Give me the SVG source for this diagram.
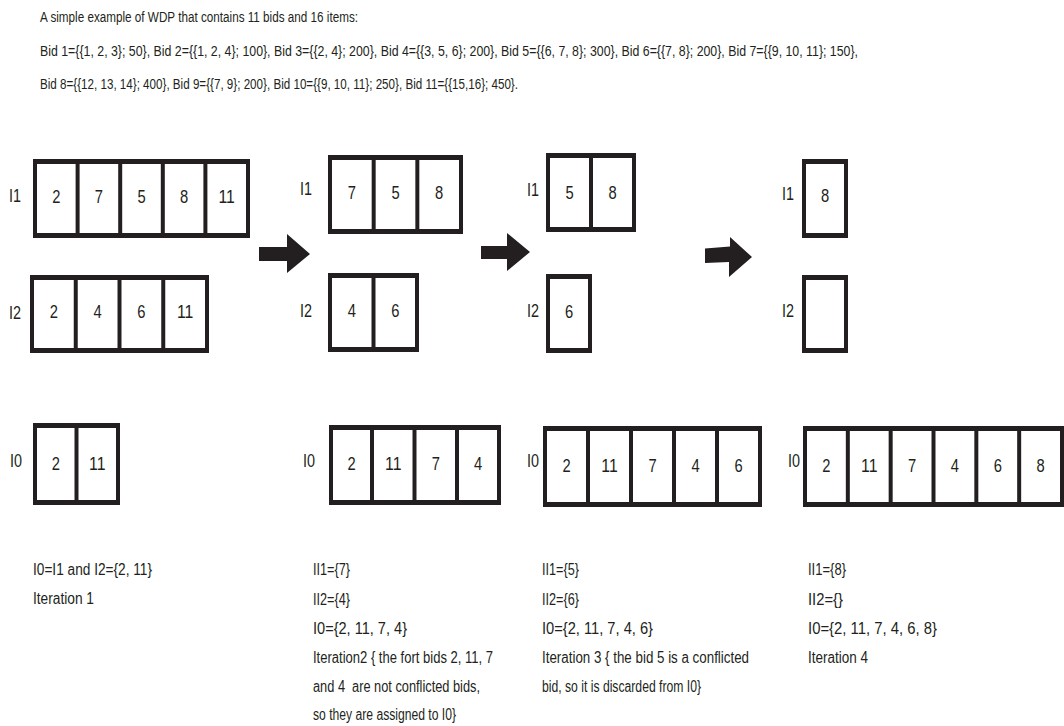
<svg xmlns="http://www.w3.org/2000/svg" width="1064" height="726" viewBox="0 0 1064 726">
<style>
  text { font-family: "Liberation Sans Narrow", "Liberation Sans", Arial, sans-serif; fill: #231f20; }
  .hdr { font-size: 14px; }
  .cap { font-size: 16px; }
  .num { font-size: 18px; text-anchor: middle; }
  .lbl { font-size: 18px; }
  .frame { fill: #231f20; }
  .cell { fill: #ffffff; }
  .arrow { fill: #231f20; }
</style>
<rect width="1064" height="726" fill="#ffffff"/>

<g id="header">
  <text class="hdr" x="40" y="22" textLength="318" lengthAdjust="spacingAndGlyphs">A simple example of WDP that contains 11 bids and 16 items:</text>
  <text class="hdr" x="40" y="56" textLength="818" lengthAdjust="spacingAndGlyphs">Bid 1={{1, 2, 3}; 50}, Bid 2={{1, 2, 4}; 100}, Bid 3={{2, 4}; 200}, Bid 4={{3, 5, 6}; 200}, Bid 5={{6, 7, 8}; 300}, Bid 6={{7, 8}; 200}, Bid 7={{9, 10, 11}; 150},</text>
  <text class="hdr" x="40" y="89" textLength="478" lengthAdjust="spacingAndGlyphs">Bid 8={{12, 13, 14}; 400}, Bid 9={{7, 9}; 200}, Bid 10={{9, 10, 11}; 250}, Bid 11={{15,16}; 450}.</text>
</g>

<!-- Iteration 1 -->
<g id="it1-I1">
  <text class="lbl" x="9" y="201.5" textLength="12" lengthAdjust="spacingAndGlyphs">I1</text>
  <rect class="frame" x="33" y="159" width="217" height="79"/>
  <rect class="cell" x="37" y="164" width="38.6" height="69"/>
  <rect class="cell" x="79.6" y="164" width="38.6" height="69"/>
  <rect class="cell" x="122.2" y="164" width="38.6" height="69"/>
  <rect class="cell" x="164.8" y="164" width="38.6" height="69"/>
  <rect class="cell" x="207.4" y="164" width="38.6" height="69"/>
  <text class="num" x="56.3" y="203" textLength="8.2" lengthAdjust="spacingAndGlyphs">2</text>
  <text class="num" x="98.9" y="203" textLength="8.2" lengthAdjust="spacingAndGlyphs">7</text>
  <text class="num" x="141.5" y="203" textLength="8.2" lengthAdjust="spacingAndGlyphs">5</text>
  <text class="num" x="184.1" y="203" textLength="8.2" lengthAdjust="spacingAndGlyphs">8</text>
  <text class="num" x="226.7" y="203" textLength="16.4" lengthAdjust="spacingAndGlyphs">11</text>
</g>
<g id="it1-I2">
  <text class="lbl" x="9" y="318.5" textLength="12" lengthAdjust="spacingAndGlyphs">I2</text>
  <rect class="frame" x="30" y="275" width="179" height="78"/>
  <rect class="cell" x="34" y="280" width="39.75" height="68"/>
  <rect class="cell" x="77.75" y="280" width="39.75" height="68"/>
  <rect class="cell" x="121.5" y="280" width="39.75" height="68"/>
  <rect class="cell" x="165.25" y="280" width="39.75" height="68"/>
  <text class="num" x="53.9" y="318" textLength="8.2" lengthAdjust="spacingAndGlyphs">2</text>
  <text class="num" x="97.6" y="318" textLength="8.2" lengthAdjust="spacingAndGlyphs">4</text>
  <text class="num" x="141.4" y="318" textLength="8.2" lengthAdjust="spacingAndGlyphs">6</text>
  <text class="num" x="185.1" y="318" textLength="16.4" lengthAdjust="spacingAndGlyphs">11</text>
</g>
<g id="it1-I0">
  <text class="lbl" x="10" y="467" textLength="12" lengthAdjust="spacingAndGlyphs">I0</text>
  <rect class="frame" x="33" y="423" width="87" height="82"/>
  <rect class="cell" x="37" y="428" width="37.5" height="72"/>
  <rect class="cell" x="78.5" y="428" width="37.5" height="72"/>
  <text class="num" x="55.75" y="470" textLength="8.2" lengthAdjust="spacingAndGlyphs">2</text>
  <text class="num" x="97.25" y="470" textLength="16.4" lengthAdjust="spacingAndGlyphs">11</text>
</g>
<g id="it1-text">
  <text class="cap" x="33" y="575" textLength="119" lengthAdjust="spacingAndGlyphs">I0=I1 and I2={2, 11}</text>
  <text class="cap" x="33" y="604" textLength="61" lengthAdjust="spacingAndGlyphs">Iteration 1</text>
</g>

<!-- Iteration 2 -->
<g id="it2-I1">
  <text class="lbl" x="300" y="194.5" textLength="12" lengthAdjust="spacingAndGlyphs">I1</text>
  <rect class="frame" x="328" y="155" width="135" height="79"/>
  <rect class="cell" x="332" y="160" width="39.67" height="69"/>
  <rect class="cell" x="375.67" y="160" width="39.67" height="69"/>
  <rect class="cell" x="419.33" y="160" width="39.67" height="69"/>
  <text class="num" x="351.8" y="199" textLength="8.2" lengthAdjust="spacingAndGlyphs">7</text>
  <text class="num" x="395.5" y="199" textLength="8.2" lengthAdjust="spacingAndGlyphs">5</text>
  <text class="num" x="439.2" y="199" textLength="8.2" lengthAdjust="spacingAndGlyphs">8</text>
</g>
<g id="it2-I2">
  <text class="lbl" x="300" y="316.5" textLength="12" lengthAdjust="spacingAndGlyphs">I2</text>
  <rect class="frame" x="328" y="273" width="91" height="79"/>
  <rect class="cell" x="332" y="278" width="39.5" height="69"/>
  <rect class="cell" x="375.5" y="278" width="39.5" height="69"/>
  <text class="num" x="351.75" y="317" textLength="8.2" lengthAdjust="spacingAndGlyphs">4</text>
  <text class="num" x="395.25" y="317" textLength="8.2" lengthAdjust="spacingAndGlyphs">6</text>
</g>
<g id="it2-I0">
  <text class="lbl" x="303" y="467" textLength="12" lengthAdjust="spacingAndGlyphs">I0</text>
  <rect class="frame" x="329" y="425" width="172" height="80"/>
  <rect class="cell" x="333" y="430" width="37" height="70"/>
  <rect class="cell" x="374" y="430" width="38.5" height="70"/>
  <rect class="cell" x="416.5" y="430" width="38.5" height="70"/>
  <rect class="cell" x="459" y="430" width="38" height="70"/>
  <text class="num" x="351.5" y="470" textLength="8.2" lengthAdjust="spacingAndGlyphs">2</text>
  <text class="num" x="393.25" y="470" textLength="16.4" lengthAdjust="spacingAndGlyphs">11</text>
  <text class="num" x="435.75" y="470" textLength="8.2" lengthAdjust="spacingAndGlyphs">7</text>
  <text class="num" x="478" y="470" textLength="8.2" lengthAdjust="spacingAndGlyphs">4</text>
</g>
<g id="it2-text">
  <text class="cap" x="313" y="575" textLength="37" lengthAdjust="spacingAndGlyphs">II1={7}</text>
  <text class="cap" x="313" y="605" textLength="37" lengthAdjust="spacingAndGlyphs">II2={4}</text>
  <text class="cap" x="313" y="634" textLength="94" lengthAdjust="spacingAndGlyphs">I0={2, 11, 7, 4}</text>
  <text class="cap" x="313" y="663" textLength="180" lengthAdjust="spacingAndGlyphs">Iteration2 { the fort bids 2, 11, 7</text>
  <text class="cap" x="313" y="692" textLength="167" lengthAdjust="spacingAndGlyphs" xml:space="preserve">and 4  are not conflicted bids,</text>
  <text class="cap" x="313" y="720" textLength="143" lengthAdjust="spacingAndGlyphs">so they are assigned to I0}</text>
</g>

<!-- Iteration 3 -->
<g id="it3-I1">
  <text class="lbl" x="527" y="195.5" textLength="12" lengthAdjust="spacingAndGlyphs">I1</text>
  <rect class="frame" x="546" y="153" width="90" height="79"/>
  <rect class="cell" x="550" y="158" width="39" height="69"/>
  <rect class="cell" x="593" y="158" width="39" height="69"/>
  <text class="num" x="569.5" y="199" textLength="8.2" lengthAdjust="spacingAndGlyphs">5</text>
  <text class="num" x="612.5" y="199" textLength="8.2" lengthAdjust="spacingAndGlyphs">8</text>
</g>
<g id="it3-I2">
  <text class="lbl" x="527" y="316.5" textLength="12" lengthAdjust="spacingAndGlyphs">I2</text>
  <rect class="frame" x="546" y="274" width="46" height="79"/>
  <rect class="cell" x="550" y="279" width="38" height="69"/>
  <text class="num" x="569" y="318" textLength="8.2" lengthAdjust="spacingAndGlyphs">6</text>
</g>
<g id="it3-I0">
  <text class="lbl" x="527" y="467" textLength="12" lengthAdjust="spacingAndGlyphs">I0</text>
  <rect class="frame" x="543" y="426" width="219" height="81"/>
  <rect class="cell" x="547" y="431" width="39" height="71"/>
  <rect class="cell" x="590" y="431" width="39" height="71"/>
  <rect class="cell" x="633" y="431" width="39" height="71"/>
  <rect class="cell" x="676" y="431" width="39" height="71"/>
  <rect class="cell" x="719" y="431" width="39" height="71"/>
  <text class="num" x="566.5" y="472" textLength="8.2" lengthAdjust="spacingAndGlyphs">2</text>
  <text class="num" x="609.5" y="472" textLength="16.4" lengthAdjust="spacingAndGlyphs">11</text>
  <text class="num" x="652.5" y="472" textLength="8.2" lengthAdjust="spacingAndGlyphs">7</text>
  <text class="num" x="695.5" y="472" textLength="8.2" lengthAdjust="spacingAndGlyphs">4</text>
  <text class="num" x="738.5" y="472" textLength="8.2" lengthAdjust="spacingAndGlyphs">6</text>
</g>
<g id="it3-text">
  <text class="cap" x="542" y="575" textLength="37" lengthAdjust="spacingAndGlyphs">II1={5}</text>
  <text class="cap" x="542" y="605" textLength="37" lengthAdjust="spacingAndGlyphs">II2={6}</text>
  <text class="cap" x="542" y="634" textLength="111" lengthAdjust="spacingAndGlyphs">I0={2, 11, 7, 4, 6}</text>
  <text class="cap" x="542" y="663" textLength="207" lengthAdjust="spacingAndGlyphs">Iteration 3 { the bid 5 is a conflicted</text>
  <text class="cap" x="542" y="692" textLength="159" lengthAdjust="spacingAndGlyphs">bid, so it is discarded from I0}</text>
</g>

<!-- Iteration 4 -->
<g id="it4-I1">
  <text class="lbl" x="782" y="199.5" textLength="12" lengthAdjust="spacingAndGlyphs">I1</text>
  <rect class="frame" x="802" y="159" width="46" height="79"/>
  <rect class="cell" x="806" y="164" width="38" height="69"/>
  <text class="num" x="825" y="201.5" textLength="8.2" lengthAdjust="spacingAndGlyphs">8</text>
</g>
<g id="it4-I2">
  <text class="lbl" x="782" y="316.5" textLength="12" lengthAdjust="spacingAndGlyphs">I2</text>
  <rect class="frame" x="802" y="275" width="46" height="78"/>
  <rect class="cell" x="806" y="280" width="38" height="68"/>
</g>
<g id="it4-I0">
  <text class="lbl" x="788" y="467" textLength="12" lengthAdjust="spacingAndGlyphs">I0</text>
  <rect class="frame" x="803" y="426" width="261" height="81"/>
  <rect class="cell" x="807" y="431" width="38.83" height="71"/>
  <rect class="cell" x="849.83" y="431" width="38.83" height="71"/>
  <rect class="cell" x="892.67" y="431" width="38.83" height="71"/>
  <rect class="cell" x="935.5" y="431" width="38.83" height="71"/>
  <rect class="cell" x="978.33" y="431" width="38.83" height="71"/>
  <rect class="cell" x="1021.17" y="431" width="38.83" height="71"/>
  <text class="num" x="826.4" y="471.5" textLength="8.2" lengthAdjust="spacingAndGlyphs">2</text>
  <text class="num" x="869.3" y="471.5" textLength="16.4" lengthAdjust="spacingAndGlyphs">11</text>
  <text class="num" x="912.1" y="471.5" textLength="8.2" lengthAdjust="spacingAndGlyphs">7</text>
  <text class="num" x="954.9" y="471.5" textLength="8.2" lengthAdjust="spacingAndGlyphs">4</text>
  <text class="num" x="997.8" y="471.5" textLength="8.2" lengthAdjust="spacingAndGlyphs">6</text>
  <text class="num" x="1040.6" y="471.5" textLength="8.2" lengthAdjust="spacingAndGlyphs">8</text>
</g>
<g id="it4-text">
  <text class="cap" x="808" y="575" textLength="38" lengthAdjust="spacingAndGlyphs">II1={8}</text>
  <text class="cap" x="808" y="605" textLength="35" lengthAdjust="spacingAndGlyphs">II2={}</text>
  <text class="cap" x="808" y="634" textLength="129" lengthAdjust="spacingAndGlyphs">I0={2, 11, 7, 4, 6, 8}</text>
  <text class="cap" x="808" y="663" textLength="60" lengthAdjust="spacingAndGlyphs">Iteration 4</text>
</g>

<g id="connectors">
  <polygon class="arrow" points="259,247 287,247 287,234 310,254 287,273 287,261 259,261"/>
  <polygon class="arrow" points="481,246 507,246 507,233 530,252 507,271 507,259 481,259"/>
  <polygon class="arrow" points="705,248.5 730,246.5 730,237 752,257 729,277 729,262 705,263"/>
</g>
</svg>
